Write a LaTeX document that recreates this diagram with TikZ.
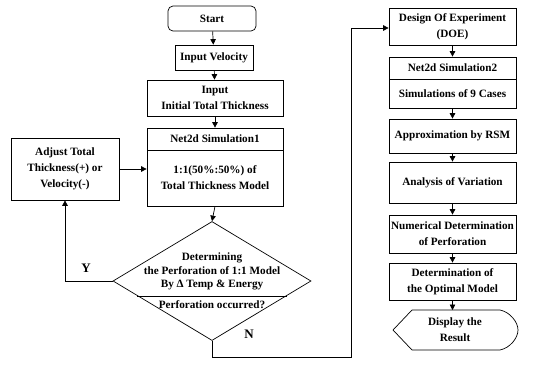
\documentclass[tikz,border=0pt]{standalone}
\usepackage{fontspec}
\setmainfont{Liberation Serif}
\usetikzlibrary{arrows.meta,shapes.geometric,calc}
\newcommand\boxfont{\fontsize{11.2}{16}\selectfont\bfseries}
\newcommand\decfont{\fontsize{11.2}{13.5}\selectfont\bfseries}
\tikzset{
  x=1pt,y=-1pt,
  fbox/.style={draw=black,line width=0.7pt,rectangle,inner sep=1pt,align=center,font=\boxfont,anchor=center},
  arr/.style={line width=0.7pt,-{Triangle[length=5.5pt,width=5.5pt]}},
  ln/.style={line width=0.7pt},
  lbl/.style={font=\fontsize{13}{15}\selectfont\bfseries,inner sep=0pt}
}
\begin{document}
\begin{tikzpicture}
\useasboundingbox (0,0) rectangle (539,365);
\fill[white] (0,0) rectangle (539,365);
% left column
\node[fbox,rounded corners=5pt,minimum width=88pt,minimum height=25pt] (start) at (212,18.5) {Start};
\node[fbox,minimum width=78pt,minimum height=25pt] (invel) at (214,57.5) {Input Velocity};
\node[fbox,minimum width=136pt,minimum height=36pt] (thick) at (215,98) {Input\\Initial Total Thickness};
\node[fbox,minimum width=136pt,minimum height=22pt] (n1t) at (215,139) {Net2d Simulation1};
\node[fbox,minimum width=136pt,minimum height=56pt] (n1b) at (215,178) {1:1(50\%:50\%) of\\Total Thickness Model};
\node[fbox,minimum width=108pt,minimum height=62pt] (adj) at (65,169) {Adjust Total\\Thickness(+) or\\Velocity(-)};
\node[draw=black,line width=0.7pt,diamond,inner sep=0pt,minimum width=198pt,minimum height=119pt] (dec) at (212,281) {};
\node[align=center,font=\decfont,inner sep=0pt] (dect) at (212,271.5) {Determining\\the Perforation of 1:1 Model\\By Δ Temp \& Energy};
\node[font=\decfont,inner sep=0pt] (decq) at (212,305) {Perforation occurred?};
\draw[ln] ($(dec.west)!0.25!(dec.south)$) coordinate (dl) -- ($(dec.east)!0.25!(dec.south)$) coordinate (dr);
% right column
\node[fbox,minimum width=127pt,minimum height=37pt] (doe) at (452.5,26.5) {Design Of Experiment\\(DOE)};
\node[fbox,minimum width=127pt,minimum height=22pt] (s2t) at (452.5,68) {Net2d Simulation2};
\node[fbox,minimum width=127pt,minimum height=29pt] (s2b) at (452.5,93.5) {Simulations of 9 Cases};
\node[fbox,minimum width=127pt,minimum height=34pt] (rsm) at (452.5,136) {Approximation by RSM};
\node[fbox,minimum width=127pt,minimum height=41pt] (ana) at (452.5,182.5) {Analysis of Variation};
\node[fbox,minimum width=127pt,minimum height=38pt] (num) at (452.5,234) {Numerical Determination\\of Perforation};
\node[fbox,minimum width=127pt,minimum height=37pt] (opt) at (452.5,281.5) {Determination of\\the Optimal Model};
\node[align=center,font=\boxfont,inner sep=0pt] (disp) at (455,330) {Display the\\Result};
\coordinate (dL) at (393,330);
\coordinate (dTL) at (412,310);
\coordinate (dTR) at (500,310);
\coordinate (dR) at (518,330);
\coordinate (dBR) at (500,350);
\coordinate (dBL) at (412,350);
\coordinate (dT) at (452.5,310);
\draw[ln] (dL) -- (dTL) -- (dTR) .. controls (510,312) and (518,322) .. (dR) .. controls (518,338) and (510,348) .. (dBR) -- (dBL) -- cycle;
% connectors
\draw[arr] (start) -- (invel);
\draw[arr] (invel) -- (thick);
\draw[arr] (thick) -- (n1t);
\draw[arr] (adj.east) -- (adj.east -| n1b.west);
\draw[arr] (n1b.south) -- (dec.north);
\coordinate (yc) at (adj.south |- dec.west);
\draw[arr] (dec.west) -- (yc) -- (adj.south);
\coordinate (nb) at (212,357);
\coordinate (nr) at (351,357);
\coordinate (nt) at (351,28);
\draw[arr] (dec.south) -- (nb) -- (nr) -- (nt) -- (nt -| doe.west);
\draw[arr] (doe) -- (s2t);
\draw[arr] (s2b) -- (rsm);
\draw[arr] (rsm) -- (ana);
\draw[arr] (ana) -- (num);
\draw[arr] (num) -- (opt);
\draw[arr] (opt.south) -- (dT);
\node[lbl] (ylab) at (86,268) {Y};
\node[lbl] (nlab) at (249,334) {N};
\end{tikzpicture}
\end{document}
